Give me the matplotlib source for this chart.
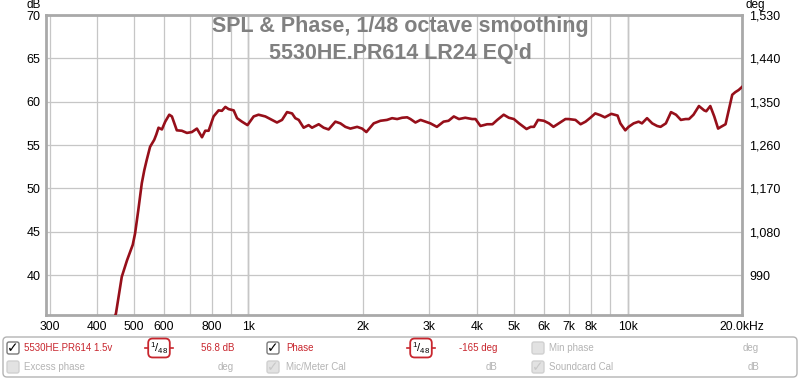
import matplotlib
matplotlib.use('Agg')
import matplotlib.pyplot as plt
from matplotlib.patches import FancyBboxPatch, Rectangle
from matplotlib.ticker import NullLocator

plt.rcParams['font.family'] = ['Liberation Sans', 'DejaVu Sans']

# SPL curve (Hz, dB)
freq_hz = [440, 448, 464, 479, 496, 503, 513, 524, 532, 540, 551, 565, 572,
           580, 592, 604, 619, 629, 648, 668, 689, 710, 732, 755, 770, 786,
           810, 835, 852, 870, 887, 915, 934, 962, 995, 1033, 1064, 1109,
           1155, 1190, 1227, 1265, 1304, 1330, 1358, 1399, 1442, 1472, 1533,
           1580, 1628, 1696, 1749, 1802, 1858, 1936, 1995, 2047, 2140, 2229,
           2320, 2393, 2468, 2543, 2622, 2675, 2757, 2844, 2930, 3020, 3140,
           3270, 3370, 3480, 3590, 3730, 3890, 3970, 4090, 4260, 4400, 4530,
           4710, 4860, 5010, 5170, 5280, 5410, 5550, 5660, 5800, 6010, 6200,
           6370, 6580, 6850, 6980, 7280, 7510, 7740, 7970, 8210, 8460, 8700,
           9050, 9400, 9560, 9850, 10050, 10360, 10680, 10900, 11240, 11600,
           11950, 12200, 12600, 13000, 13400, 13800, 14200, 14500, 14900,
           15400, 15900, 16100, 16500, 16900, 17300, 17600, 18100, 18400,
           18850, 19200, 19600, 20000]
spl_db = [34.5, 35.6, 39.8, 41.7, 43.5, 44.8, 47.5, 50.6, 52.1, 53.3, 54.8,
          55.6, 56.2, 57.0, 56.8, 57.7, 58.5, 58.3, 56.7, 56.65, 56.4, 56.5,
          56.9, 55.9, 56.65, 56.65, 58.3, 59.0, 58.95, 59.4, 59.15, 59.0,
          58.1, 57.7, 57.3, 58.3, 58.5, 58.3, 57.9, 57.6, 57.9, 58.8, 58.65,
          58.1, 57.9, 57.0, 57.3, 57.0, 57.4, 57.0, 56.8, 57.7, 57.5, 57.1,
          56.9, 57.1, 56.9, 56.5, 57.5, 57.8, 57.9, 58.1, 58.0, 58.15, 58.2,
          58.0, 57.6, 57.9, 57.7, 57.5, 57.1, 57.7, 57.8, 58.3, 58.0, 58.15,
          58.0, 58.0, 57.2, 57.4, 57.4, 57.9, 58.5, 58.15, 58.0, 57.5, 57.2,
          56.85, 57.1, 57.1, 57.9, 57.8, 57.5, 57.1, 57.5, 58.0, 58.0, 57.9,
          57.4, 57.7, 58.15, 58.65, 58.45, 58.2, 58.6, 58.4, 57.5, 56.7,
          57.1, 57.5, 57.7, 57.5, 58.1, 57.5, 57.2, 57.1, 57.5, 58.8, 58.5,
          57.9, 58.0, 58.0, 58.5, 59.5, 59.0, 58.9, 59.5, 58.3, 56.9, 57.1,
          57.4, 58.8, 60.8, 61.1, 61.35, 61.7]

grid_freqs = [300, 400, 500, 600, 700, 800, 900, 1000, 2000, 3000, 4000,
              5000, 6000, 7000, 8000, 9000, 10000, 20000]
grid_labels = ['300', '400', '500', '600', '', '800', '', '1k', '2k', '3k',
               '4k', '5k', '6k', '7k', '8k', '', '10k', '20.0kHz']
db_ticks = [40, 45, 50, 55, 60, 65, 70]
deg_ticks = [990, 1080, 1170, 1260, 1350, 1440, 1530]

title_lines = ['SPL & Phase, 1/48 octave smoothing', "5530HE.PR614 LR24 EQ'd"]

W, H = 800, 380
fig = plt.figure(figsize=(W / 100, H / 100), dpi=100)

ax = fig.add_axes([46 / W, 65 / H, 696 / W, 300 / H])
ax.set_xscale('log')
ax.set_xlim(293, 20000)
ax.set_ylim(35.4, 70)
ax.xaxis.set_minor_locator(NullLocator())
ax.set_xticks(grid_freqs, grid_labels)
ax.set_yticks(db_ticks)
ax.grid(True, color='#c6c6c6', lw=0.9)
for f in (1000, 10000):
    ax.axvline(f, color='#7a7a7a', lw=0.9, zorder=1)
ax.tick_params(axis='x', length=0, labelsize=8.7, pad=4)
ax.tick_params(axis='y', length=0, labelsize=9, pad=4)
for s in ax.spines.values():
    s.set_color('#a9a9a9')
    s.set_linewidth(2)

ax.plot(freq_hz, spl_db, color='#960f1a', lw=1.9, zorder=3, clip_on=True)

ax2 = ax.twinx()
ax2.set_ylim(1530 - (70 - 35.4) * 18, 1530)
ax2.set_yticks(deg_ticks, ['{:,}'.format(v) for v in deg_ticks])
ax2.tick_params(length=0, labelsize=9, pad=5)
for s in ax2.spines.values():
    s.set_visible(False)

# title, drawn inside the plot frame
fig.text(0.5, 1 - 32 / H, title_lines[0], ha='center', va='baseline',
         fontsize=15.5, fontweight='bold', color='#808080')
fig.text(0.5, 1 - 59 / H, title_lines[1], ha='center', va='baseline',
         fontsize=15.5, fontweight='bold', color='#808080')
fig.text(41 / W, 1 - 5 / H, 'dB', ha='right', va='center', fontsize=8.5)
fig.text(745 / W, 1 - 5 / H, 'deg', ha='left', va='center', fontsize=8.5)

# legend panel at the bottom, in pixel coords
lg = fig.add_axes([0, 0, 1, 1], zorder=5)
lg.set_xlim(0, W)
lg.set_ylim(H, 0)
lg.axis('off')
lg.add_patch(FancyBboxPatch((3, 337), 794, 40, boxstyle='round,pad=0,rounding_size=4',
                            fc='white', ec='#b4b4b4', lw=1))

red = '#c8262e'
grey = '#b4b4b4'


def checkbox(x, y, checked, active):
    fc = 'white' if active else '#e2e2e2'
    ec = '#7a7a7a' if active else '#d0d0d0'
    lg.add_patch(FancyBboxPatch((x, y - 6), 12, 12, boxstyle='round,pad=0,rounding_size=2',
                                fc=fc, ec=ec, lw=1))
    if checked:
        lg.text(x + 6, y + 0.5, '\u2713', ha='center', va='center', fontsize=10,
                fontweight='bold', family='DejaVu Sans',
                color='black' if active else '#c8c8c8')


def badge(x0, x1, y):
    lg.plot([x0, x1], [y, y], color=red, lw=1.2)
    lg.text((x0 + x1) / 2, y, r'$\mathregular{^1/_{48}}$', ha='center', va='center',
            fontsize=8, color='black',
            bbox=dict(boxstyle='round,pad=0.15,rounding_size=0.4', fc='white',
                      ec=red, lw=1.3))


r1, r2 = 348, 367
checkbox(7, r1, True, True)
lg.text(24, r1, '5530HE.PR614 1.5v', color=red, fontsize=7, va='center')
badge(145, 173, r1)
lg.text(234, r1, '56.8 dB', color=red, fontsize=7, va='center', ha='right')
checkbox(7, r2, False, False)
lg.text(24, r2, 'Excess phase', color=grey, fontsize=7, va='center')
lg.text(234, r2, 'deg', color=grey, fontsize=7, va='center', ha='right')

checkbox(267, r1, True, True)
lg.text(286, r1, 'Phase', color=red, fontsize=7, va='center')
badge(407, 435, r1)
lg.text(497, r1, '-165 deg', color=red, fontsize=7, va='center', ha='right')
checkbox(267, r2, True, False)
lg.text(286, r2, 'Mic/Meter Cal', color=grey, fontsize=7, va='center')
lg.text(497, r2, 'dB', color=grey, fontsize=7, va='center', ha='right')

checkbox(532, r1, False, False)
lg.text(549, r1, 'Min phase', color=grey, fontsize=7, va='center')
lg.text(759, r1, 'deg', color=grey, fontsize=7, va='center', ha='right')
checkbox(532, r2, True, False)
lg.text(549, r2, 'Soundcard Cal', color=grey, fontsize=7, va='center')
lg.text(759, r2, 'dB', color=grey, fontsize=7, va='center', ha='right')

fig.savefig('out.png', dpi=100)
